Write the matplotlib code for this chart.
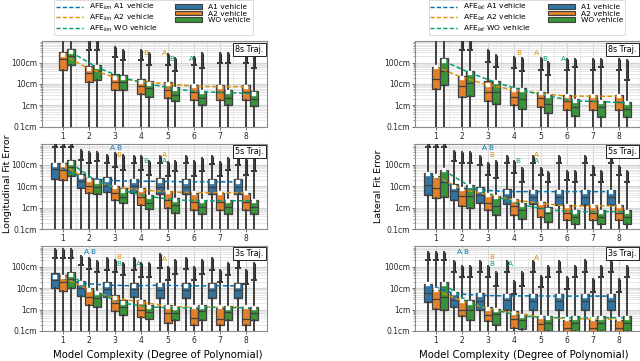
import matplotlib
matplotlib.use('Agg')
import matplotlib.pyplot as plt
from matplotlib.lines import Line2D
from matplotlib.patches import Patch
from matplotlib.ticker import FixedLocator, FixedFormatter, LogLocator, NullFormatter

# ---------------- data (values in cm) ----------------
degrees = [1, 2, 3, 4, 5, 6, 7, 8]
vehicles = ['A1 vehicle', 'A2 vehicle', 'WO vehicle']
ytick_vals = [0.1, 1, 10, 100]
ytick_labels = ['0.1cm', '1cm', '10cm', '100cm']
row_titles = ['8s Traj.', '5s Traj.', '3s Traj.']

# Longitudinal, 8s  (order: A1, A2, WO; None = not shown)
lon8_q1 = [None, [46, 13, 5.4, 3.4, 2.2, 1.7, 1.7, 1.8], [74, 15, 5.4, 2.5, 1.55, 1.07, 1.0, 0.9]]
lon8_med = [None, [145, 32, 12, 7.8, 5.4, 4.2, 4.0, 4.0], [195, 39, 12, 6.5, 3.2, 2.2, 2.1, 2.0]]
lon8_q3 = [None, [310, 66, 29, 17, 13, 9.2, 9.0, 9.0], [430, 79, 25, 14, 6.9, 4.8, 5.0, 4.5]]
lon8_afe = [None, [230, 51, 20, 13, 10, 7.8, 7.5, 7.5], [310, 60, 19, 10, 5.8, 4.2, 4.0, 3.5]]
lon8_cap = [None, [1500, 400, 175, 135, 80, 80, 100, 100], [1500, 400, 135, 80, 39, 55, 100, 55]]
lon8_max = [None, [2000, 1500, 510, 400, 250, 190, 275, 275], [2000, 1500, 400, 280, 160, 275, 275, 200]]
lon8_ann = [('B', 1, 4.17, 290), ('A', 1, 4.87, 290), ('B', 2, 5.16, 142), ('A', 2, 5.90, 142)]

# Lateral, 8s
lat8_q1 = [None, [5.6, 2.5, 1.6, 1.0, 0.8, 0.6, 0.6, 0.6], [9, 2.7, 1.2, 0.65, 0.43, 0.32, 0.3, 0.28]]
lat8_med = [None, [17, 8, 4.4, 2.4, 2.1, 1.6, 1.6, 1.5], [40, 11.5, 4.4, 1.9, 1.2, 0.86, 0.8, 0.7]]
lat8_q3 = [None, [63, 23, 14, 6.2, 4.4, 3.2, 3.2, 3.0], [160, 40, 14, 6.2, 3.0, 1.9, 1.6, 1.5]]
lat8_afe = [None, [65, 20, 9, 5.2, 3.6, 2.7, 2.7, 2.6], [117, 33, 11.7, 5.0, 2.7, 1.6, 1.5, 1.3]]
lat8_cap = [None, [1500, 380, 110, 54, 45, 45, 45, 45], [1500, 380, 63, 40, 26, 63, 63, 15]]
lat8_max = [None, [2000, 1500, 380, 186, 160, 140, 140, 140], [2000, 1500, 225, 160, 110, 140, 140, 130]]
lat8_ann = [('B', 1, 4.15, 290), ('A', 1, 4.85, 290), ('B', 2, 5.17, 142), ('A', 2, 5.87, 142)]

# Longitudinal, 5s
lon5_q1 = [[21, 8.1, 5.6, 4.8, 4.4, 4.4, 4.4, 4.4], [20, 4.8, 2.3, 1.34, 0.93, 0.78, 0.78, 0.78], [29, 4.4, 1.6, 0.84, 0.59, 0.5, 0.5, 0.5]]
lon5_med = [[63, 18, 10.5, 10.8, 9.6, 9.6, 9.6, 9.6], [58, 10.5, 4.8, 3.3, 2.3, 1.9, 1.9, 1.9], [83, 9.6, 3.3, 1.7, 1.34, 1.1, 1.1, 1.1]]
lon5_q3 = [[129, 37, 26, 22, 24, 21, 21, 21], [129, 24, 9.8, 8.1, 6.0, 5.0, 5.0, 4.8], [174, 21, 8.1, 4.0, 2.8, 2.3, 2.3, 2.3]]
lon5_afe = [[100, 27, 19, 17, 17, 16, 16, 16], [95, 19, 9, 6.8, 5.5, 5, 5, 5], [120, 16.6, 6.3, 3.3, 2.3, 2.1, 2.1, 2.1]]
lon5_cap = [[700, 170, 120, 120, 120, 120, 110, 100], [700, 120, 80, 60, 30, 30, 30, 35], [700, 150, 60, 35, 50, 50, 60, 50]]
lon5_max = [[1200, 500, 300, 250, 250, 250, 250, 250], [1200, 400, 350, 250, 140, 160, 130, 190], [1200, 400, 300, 160, 160, 220, 220, 220]]
lon5_ann = [('A', 0, 2.91, 620), ('B', 0, 3.15, 620), ('B', 1, 3.15, 295), ('B', 2, 4.17, 145),
            ('A', 1, 4.88, 295), ('A', 2, 4.88, 145)]

# Lateral, 5s
lat5_q1 = [[4.0, 2.3, 1.7, 1.5, 1.5, 1.34, 1.34, 1.34], [2.8, 1.2, 0.78, 0.46, 0.35, 0.26, 0.26, 0.26], [3.3, 0.93, 0.46, 0.28, 0.22, 0.17, 0.17, 0.17]]
lat5_med = [[11.7, 6, 4, 3.3, 3.3, 3.3, 3.3, 3.3], [8.1, 3.6, 1.7, 1.2, 0.93, 0.55, 0.55, 0.55], [15, 3.6, 1.2, 0.78, 0.55, 0.35, 0.35, 0.35]]
lat5_q3 = [[41, 13, 9.1, 7.3, 6.8, 6.8, 6.8, 6.8], [29, 8.1, 4.3, 2.5, 1.9, 1.34, 1.34, 1.34], [59, 11.7, 3.6, 1.6, 1.05, 0.78, 0.78, 0.78]]
lat5_afe = [[38, 9.6, 6.8, 5.6, 5.6, 5.6, 5.6, 5.6], [29, 7.2, 4, 2.3, 1.6, 1.2, 1.2, 1.2], [55, 10, 3.3, 1.34, 0.78, 0.65, 0.65, 0.65]]
lat5_cap = [[700, 145, 100, 120, 120, 120, 120, 120], [700, 120, 35, 40, 35, 20, 35, 35], [700, 120, 25, 16, 15, 15, 15, 15]]
lat5_max = [[1200, 430, 250, 250, 250, 250, 250, 250], [1200, 380, 125, 150, 75, 50, 90, 90], [1200, 380, 150, 75, 45, 50, 50, 50]]
lat5_ann = [('A', 0, 2.85, 620), ('B', 0, 3.10, 620), ('B', 1, 3.14, 295), ('B', 2, 4.13, 145),
            ('A', 1, 4.85, 295), ('A', 2, 4.85, 145)]

# Longitudinal, 3s
lon3_q1 = [[10.7, 4.4, 4.1, 3.8, 3.4, 3.4, 3.4, 3.4], [7.4, 1.7, 0.83, 0.45, 0.24, 0.2, 0.2, 0.2], [10, 1.4, 0.57, 0.36, 0.34, 0.31, 0.31, 0.31]]
lon3_med = [[24, 10, 9, 9, 8.4, 8.4, 8.4, 8.4], [20.6, 4.1, 2.0, 1.0, 0.69, 0.4, 0.38, 0.36], [26, 3.4, 1.4, 0.8, 0.69, 0.88, 0.8, 0.7]]
lon3_q3 = [[54, 23, 20.6, 17, 18.5, 18, 18, 18], [42, 10, 4.9, 2.8, 1.7, 1.17, 1.17, 1.17], [60, 6.3, 2.9, 1.6, 1.4, 1.6, 1.5, 1.4]]
lon3_afe = [[35, 17, 14, 13, 14, 13, 13, 13], [33, 8.4, 3.4, 2.3, 1.4, 1.3, 1.3, 1.3], [42, 6, 2.0, 1.35, 1.17, 1.26, 1.25, 1.2]]
lon3_cap = [[250, 120, 70, 70, 90, 80, 70, 90], [250, 80, 60, 35, 25, 25, 20, 15], [250, 55, 40, 35, 45, 45, 40, 25]]
lon3_max = [[700, 340, 250, 250, 400, 250, 250, 300], [700, 250, 210, 150, 100, 100, 70, 70], [700, 180, 150, 150, 210, 210, 150, 150]]
lon3_ann = [('A', 0, 1.89, 490), ('B', 0, 2.15, 490), ('B', 1, 3.15, 290), ('B', 2, 3.15, 130),
            ('A', 2, 3.89, 130), ('A', 1, 4.88, 240)]

# Lateral, 3s
lat3_q1 = [[2.2, 1.3, 1.0, 0.92, 0.92, 0.92, 0.92, 0.92], [1.1, 0.48, 0.28, 0.14, 0.08, 0.06, 0.06, 0.06], [1.0, 0.32, 0.19, 0.13, 0.1, 0.1, 0.1, 0.1]]
lat3_med = [[5.9, 2.9, 2.4, 2.7, 2.6, 2.6, 2.6, 2.6], [3.2, 1.0, 0.55, 0.37, 0.21, 0.14, 0.14, 0.14], [3.8, 0.92, 0.6, 0.32, 0.23, 0.23, 0.23, 0.23]]
lat3_q3 = [[16, 6.5, 5.9, 5.2, 5.2, 5.2, 5.2, 5.2], [8.7, 2.9, 1.35, 0.82, 0.48, 0.32, 0.32, 0.32], [19, 2.7, 1.1, 0.6, 0.48, 0.48, 0.48, 0.48]]
lat3_afe = [[15, 5.7, 4.6, 4.4, 4.4, 4.3, 4.3, 4.3], [8, 2.5, 1.1, 0.68, 0.45, 0.38, 0.36, 0.36], [16, 2.0, 0.92, 0.5, 0.42, 0.42, 0.42, 0.42]]
lat3_cap = [[200, 55, 55, 55, 55, 55, 60, 55], [200, 32, 32, 5.6, 11, 9, 7, 7], [200, 32, 13, 13, 32, 32, 32, 32]]
lat3_max = [[500, 195, 195, 195, 195, 195, 220, 195], [500, 115, 115, 23, 39, 33, 28, 28], [500, 115, 55, 55, 115, 115, 115, 115]]
lat3_ann = [('A', 0, 1.90, 490), ('B', 0, 2.14, 490), ('B', 1, 3.14, 290), ('B', 2, 3.14, 130),
            ('A', 2, 3.86, 130), ('A', 1, 4.85, 250)]

WHIS_LOW = 0.01  # lower whiskers run below the axis floor

# ---------------- style ----------------
box_colors = ['#3274a1', '#e1812c', '#3a923a']
line_colors = ['#0173b2', '#de8f05', '#029e73']
edge = '#3f3f3f'
offsets = [-0.3, 0.0, 0.3]

fig = plt.figure(figsize=(6.4, 3.61), dpi=100)

col_x = [42 / 640, 415 / 640]
col_w = 225 / 640
row_y = [1 - 126.7 / 361, 1 - 229 / 361, 1 - 331 / 361]
row_h = 85.5 / 361

panels = [
    [(lon8_q1, lon8_med, lon8_q3, lon8_afe, lon8_cap, lon8_max, lon8_ann),
     (lat8_q1, lat8_med, lat8_q3, lat8_afe, lat8_cap, lat8_max, lat8_ann)],
    [(lon5_q1, lon5_med, lon5_q3, lon5_afe, lon5_cap, lon5_max, lon5_ann),
     (lat5_q1, lat5_med, lat5_q3, lat5_afe, lat5_cap, lat5_max, lat5_ann)],
    [(lon3_q1, lon3_med, lon3_q3, lon3_afe, lon3_cap, lon3_max, lon3_ann),
     (lat3_q1, lat3_med, lat3_q3, lat3_afe, lat3_cap, lat3_max, lat3_ann)],
]

axes = [[None, None], [None, None], [None, None]]
for r in range(3):
    for c in range(2):
        ax = fig.add_axes([col_x[c], row_y[r], col_w, row_h])
        axes[r][c] = ax
        q1s, meds, q3s, afes, caps, maxs, anns = panels[r][c]
        ax.set_yscale('log')
        for h in range(3):
            if q1s[h] is None:
                continue
            pos = [d + offsets[h] for d in degrees]
            stats = [dict(med=meds[h][i], q1=q1s[h][i], q3=q3s[h][i], whislo=WHIS_LOW,
                          whishi=maxs[h][i], mean=afes[h][i], fliers=[]) for i in range(len(degrees))]
            bp = ax.bxp(stats, positions=pos, widths=0.31, patch_artist=True, showmeans=True,
                        showcaps=False, showfliers=False, manage_ticks=False,
                        boxprops=dict(facecolor=box_colors[h], edgecolor=edge, linewidth=0.9),
                        medianprops=dict(color=edge, linewidth=0.9),
                        whiskerprops=dict(color=edge, linewidth=1.4),
                        meanprops=dict(marker='s', markerfacecolor='white', markeredgecolor='#f0f0f0',
                                       markersize=2.4, markeredgewidth=0.3),
                        zorder=3)
            for m in bp['means']:
                m.set_zorder(6)
            ax.vlines(pos, caps[h], maxs[h], colors='#2a2a2a', linewidth=2.2, zorder=2.8)
            ax.plot(pos, caps[h], ls='none', marker='_', ms=4.5, mew=1.3, color='#2a2a2a', zorder=2.9)
            ax.plot(pos, afes[h], ls=(0, (3, 1.6)), color=line_colors[h], lw=1.1, zorder=5)
        for (txt, h, x, y) in anns:
            ax.text(x, y, txt, color=line_colors[h], fontsize=5.3, ha='center', va='center', zorder=7)

        ax.set_xlim(0.2, 8.8)
        ax.set_ylim(0.1, 1000)
        ax.yaxis.set_major_locator(FixedLocator(ytick_vals))
        ax.yaxis.set_major_formatter(FixedFormatter(ytick_labels))
        ax.yaxis.set_minor_locator(LogLocator(base=10, subs=range(2, 10)))
        ax.yaxis.set_minor_formatter(NullFormatter())
        ax.set_xticks(degrees)
        ax.set_xticklabels([str(d) for d in degrees])
        ax.set_xticks([d + 0.5 for d in degrees[:-1]], minor=True)
        ax.grid(True, which='major', axis='both', color='#d3d3d3', lw=0.8, zorder=0)
        ax.grid(True, which='minor', axis='both', color='#e3e3e3', lw=0.6, zorder=0)
        ax.set_axisbelow(True)
        ax.tick_params(axis='both', which='major', labelsize=5.5, length=2, width=0.6,
                       color='#555555', pad=1.5, labelcolor='#262626')
        ax.tick_params(axis='y', which='minor', length=1.3, width=0.5, color='#777777')
        ax.tick_params(axis='x', which='minor', length=0)
        for s in ax.spines.values():
            s.set_color('#8c8c8c')
            s.set_linewidth(0.8)
        ax.text(0.985, 0.955, row_titles[r], transform=ax.transAxes, ha='right', va='top',
                fontsize=5.8, zorder=8,
                bbox=dict(boxstyle='square,pad=0.25', fc='white', ec='#222222', lw=0.7))

# legends, pinned to the top edge of the figure above each column
legend_cx = [153.5 / 640, 527 / 640]
for c, sub in enumerate(['lon', 'lat']):
    handles = []
    for h in range(3):
        handles.append(Line2D([0], [0], color=line_colors[h], ls=(0, (3, 1.6)), lw=1.0,
                              label='AFE$_{%s}$ %s' % (sub, vehicles[h])))
    for h in range(3):
        handles.append(Patch(facecolor=box_colors[h], edgecolor=edge, linewidth=0.8, label=vehicles[h]))
    leg = fig.legend(handles=handles, ncol=2, loc='upper center',
                     bbox_to_anchor=(legend_cx[c], 0.999), bbox_transform=fig.transFigure,
                     fontsize=5.4, handlelength=3.6, handleheight=0.6, columnspacing=2.3,
                     labelspacing=0.05, borderaxespad=0.0, frameon=True, fancybox=False,
                     borderpad=0.25)
    leg.get_frame().set_edgecolor('#cccccc')
    leg.get_frame().set_linewidth(0.6)

fig.text(0.011, 0.49, 'Longitudinal Fit Error', rotation=90, ha='center', va='center', fontsize=6.8)
fig.text(0.591, 0.483, 'Lateral Fit Error', rotation=90, ha='center', va='center', fontsize=6.8)
fig.text(0.247, 0.016, 'Model Complexity (Degree of Polynomial)', ha='center', va='center', fontsize=7.3)
fig.text(0.819, 0.016, 'Model Complexity (Degree of Polynomial)', ha='center', va='center', fontsize=7.3)

fig.savefig('out.png', dpi=100)
